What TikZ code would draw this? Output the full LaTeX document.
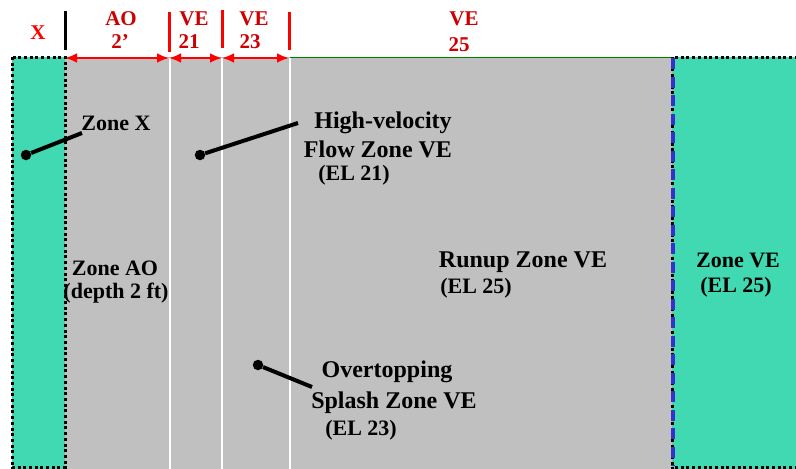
\documentclass[tikz,border=0pt]{standalone}
\usepackage{fontspec}
\setmainfont{Liberation Serif}
\usetikzlibrary{arrows.meta}

\definecolor{zonegreen}{RGB}{64,217,177}
\definecolor{zonegray}{RGB}{192,192,192}
\definecolor{labelred}{RGB}{204,0,0}
\definecolor{edgeblue}{RGB}{51,51,204}

\tikzset{
  lbl/.style={font=\fontsize{22}{26}\selectfont\bfseries, inner sep=0pt, anchor=base},
  biglbl/.style={lbl, font=\fontsize{24}{28}\selectfont\bfseries},
  toplbl/.style={lbl, font=\fontsize{21}{25}\selectfont\bfseries, text=labelred},
  tick/.style={line width=3pt, red},
  span/.style={red, line width=2.6pt, {Latex[length=12pt,width=10pt]}-{Latex[length=12pt,width=10pt]}},
  dotpt/.style={circle, fill=black, inner sep=0pt, minimum size=10.5pt},
  leader/.style={line width=4pt},
  dotline/.style={line width=3pt, dash pattern=on 3pt off 2.7pt}
}

\begin{document}
\begin{tikzpicture}[x=1pt,y=-1pt]
\useasboundingbox (0,0) rectangle (796,469);

% zones
\fill [zonegray] (65,57) rectangle (672,469);
\fill [zonegreen] (12,57) rectangle (65,469);
\fill [zonegreen] (672,57) rectangle (796,469);
\draw [green!50!black, line width=0.8pt] (290,57) -- (672,57);

\foreach \x in {170,222,290}
    \draw [white, line width=2.2pt] (\x,58) -- (\x,469);

% dotted borders
\draw [dotline] (12,57) rectangle (65,467.5);
\draw [dotline] (675,57) -- (796,57);
\draw [dotline] (675,467.5) -- (796,467.5);
\draw [dotline] (672.5,57) -- (672.5,469);
\draw [edgeblue, line width=4pt, dash pattern=on 11pt off 7.5pt, dash phase=-1pt] (672.5,57) -- (672.5,466);

% top scale
\coordinate (t0) at (65,11);   \coordinate (b0) at (65,58);
\coordinate (t1) at (169,12);  \coordinate (b1) at (169,58);
\coordinate (t2) at (222,10);  \coordinate (b2) at (222,58);
\coordinate (t3) at (289,12);  \coordinate (b3) at (289,58);

\draw [line width=3pt] (t0) -- (65,50);
\draw [tick] (t1) -- (169,52);
\draw [tick] (t2) -- (222,48);
\draw [tick] (t3) -- (289,50);

\draw [span] (b0) -- (b1);
\draw [span] (b1) -- (b2);
\draw [span] (b2) -- (b3);

\node [toplbl, font=\fontsize{21}{25}\selectfont\bfseries, text=red] (x) at (38,39) {X};
\node [toplbl] (ao) at (121,25) {AO};
\node [toplbl] (ao2) at (120,48) {2’};
\node [toplbl] (ve21) at (194,25) {VE};
\node [toplbl] (ve21b) at (189,48) {21};
\node [toplbl] (ve23) at (254,25) {VE};
\node [toplbl] (ve23b) at (250,48) {23};
\node [toplbl] (ve25) at (464,25) {VE};
\node [toplbl] (ve25b) at (459,51) {25};

% zone labels
\node [lbl] (zx) at (116,130) {Zone X};
\node [dotpt] (zxdot) at (26,155) {};
\coordinate (zxend) at (82,133);
\draw [leader] (zxdot) -- (zxend);

\node [biglbl] (hv1) at (383,128) {High-velocity};
\node [biglbl] (hv2) at (378,157) {Flow Zone VE};
\node [lbl] (hv3) at (354,180) {(EL 21)};
\node [dotpt] (hvdot) at (200,155) {};
\coordinate (hvend) at (298,123);
\draw [leader] (hvdot) -- (hvend);

\node [lbl] (ao1) at (115,275) {Zone AO};
\node [lbl] (ao2b) at (116,298) {(depth 2 ft)};

\node [biglbl] (ru1) at (523,267) {Runup Zone VE};
\node [lbl] (ru2) at (476,293) {(EL 25)};

\node [lbl] (ve1) at (738,267) {Zone VE};
\node [lbl] (ve2) at (736,292) {(EL 25)};

\node [biglbl] (ov1) at (387,377) {Overtopping};
\node [biglbl] (ov2) at (394,408) {Splash Zone VE};
\node [lbl] (ov3) at (361,435) {(EL 23)};
\node [dotpt] (ovdot) at (258,365) {};
\coordinate (ovend) at (312,387);
\draw [leader] (ovdot) -- (ovend);

\end{tikzpicture}
\end{document}
